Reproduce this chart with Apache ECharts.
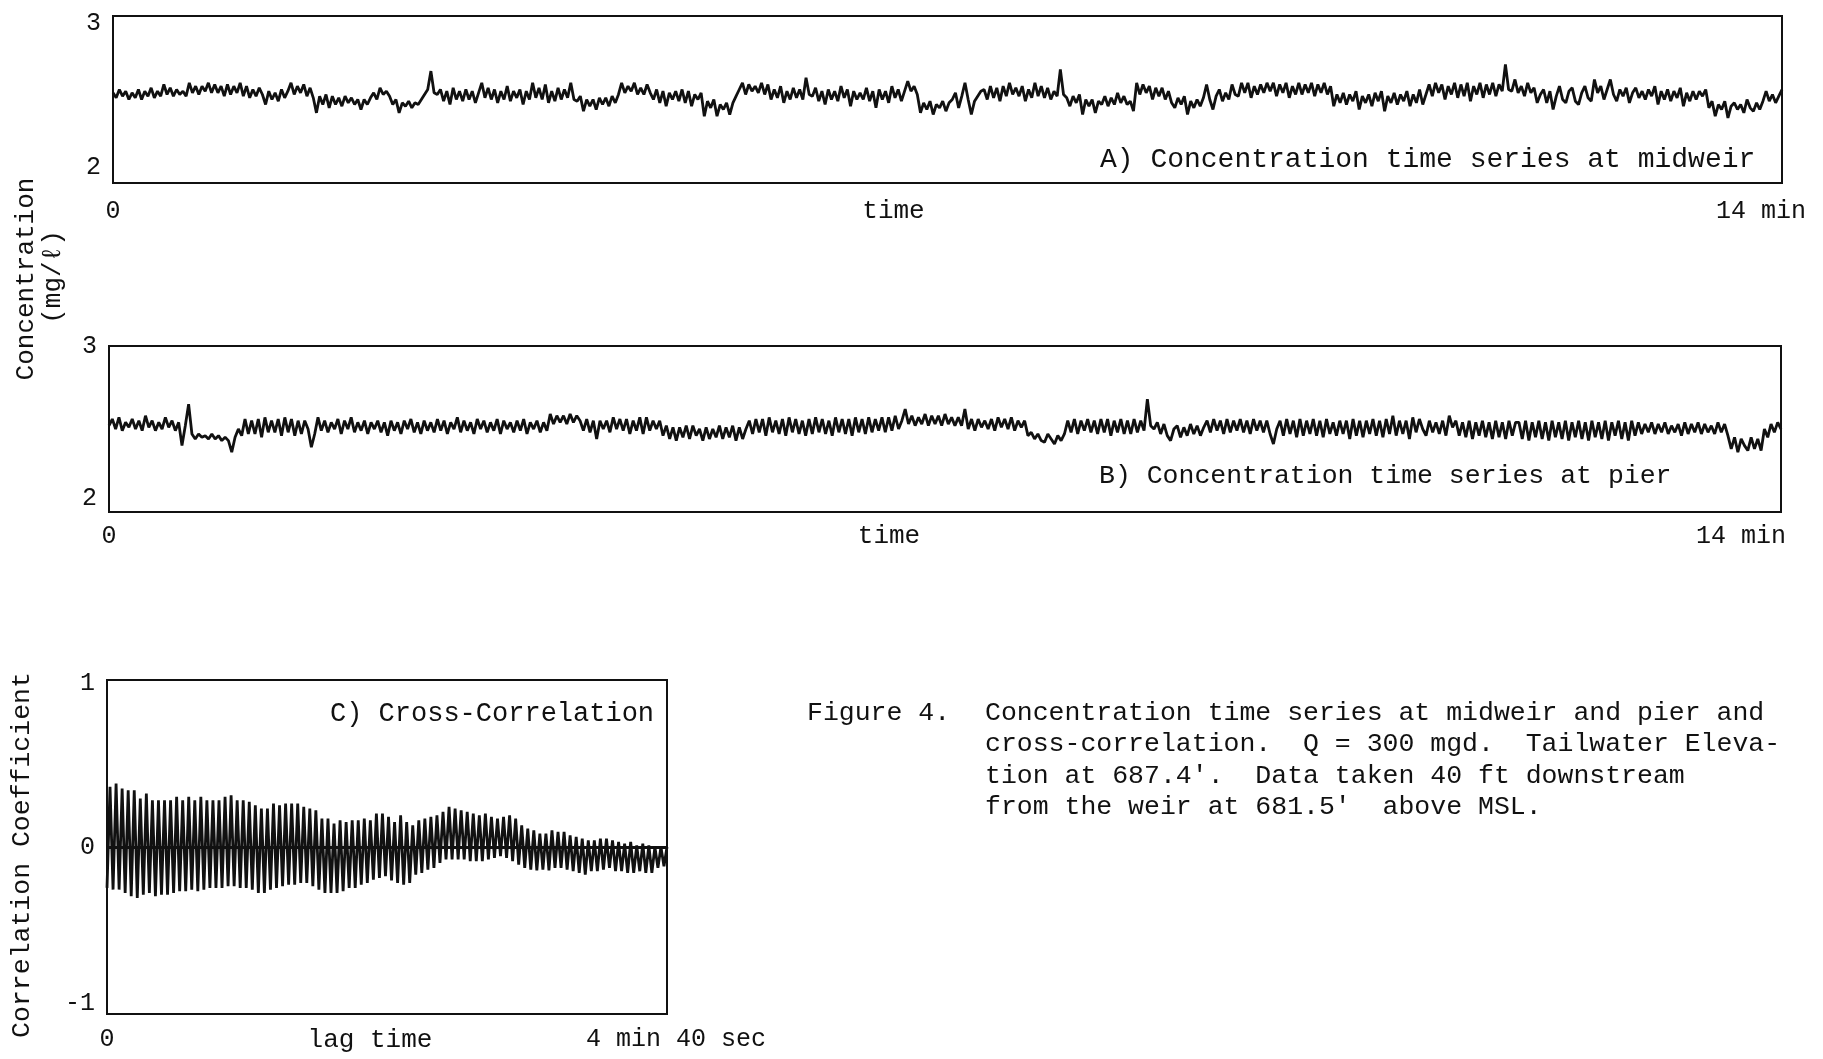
<!DOCTYPE html>
<html>
<head>
<meta charset="utf-8">
<script src="https://cdn.jsdelivr.net/npm/echarts@6/dist/echarts.min.js"></script>
<style>
html,body{margin:0;padding:0;background:#ffffff;}
#chart{width:1823px;height:1059px;}
</style>
</head>
<body>
<div id="chart"></div>
<script>
// ---------- data ----------
// A) concentration at midweir (mg/l), evenly sampled over 0..14 min
const midweirConc = [
2.54,2.51,2.56,2.52,2.55,2.50,2.54,2.51,2.56,2.50,2.55,2.52,2.57,2.51,2.55,2.52,
2.59,2.53,2.57,2.52,2.56,2.53,2.55,2.52,2.60,2.54,2.58,2.53,2.58,2.55,2.60,2.54,
2.59,2.54,2.58,2.52,2.59,2.53,2.58,2.54,2.60,2.52,2.58,2.51,2.56,2.52,2.57,2.53,
2.47,2.55,2.50,2.54,2.49,2.56,2.51,2.55,
2.60,2.53,2.58,2.54,2.59,2.52,2.57,2.51,
2.42,2.52,2.47,2.53,2.45,2.52,2.47,2.51,2.46,2.52,2.48,2.51,2.47,2.50,
2.44,2.50,2.47,2.51,
2.54,2.50,2.57,2.53,2.55,2.52,
2.47,2.50,2.42,2.48,2.46,2.49,2.45,2.48,2.47,2.50,
2.53,2.56,2.67,2.54,
2.53,2.56,2.49,2.55,2.47,2.57,2.50,2.55,2.49,2.56,2.50,2.55,2.48,2.54,
2.60,2.51,2.57,2.50,2.56,2.48,2.55,2.50,2.58,2.49,2.55,2.51,2.56,2.47,2.55,
2.50,2.60,2.51,2.57,2.50,2.59,2.48,2.55,2.49,2.57,2.50,2.56,2.51,2.60,2.50,
2.49,2.52,2.43,2.50,2.46,2.50,2.44,2.51,2.47,2.51,2.46,2.52,2.48,2.53,
2.60,2.54,2.58,2.55,2.60,2.53,2.57,2.53,2.59,2.54,
2.50,2.56,2.48,2.55,2.46,2.54,2.50,2.55,2.49,2.56,2.48,2.55,2.46,2.53,2.50,2.54,
2.40,2.49,2.45,2.50,2.40,2.47,2.44,2.48,
2.41,2.48,2.52,2.56,
2.60,2.53,2.59,2.55,2.58,2.54,2.60,2.53,2.59,2.50,2.56,2.51,2.58,2.48,2.55,2.50,2.57,2.51,2.56,2.50,2.63,2.53,
2.52,2.57,2.49,2.55,2.47,2.56,2.50,2.55,2.49,2.58,2.51,2.56,2.46,2.55,2.50,
2.54,2.50,2.57,2.49,2.55,2.45,2.56,2.50,2.55,2.48,2.58,2.51,2.56,2.49,2.55,
2.61,2.55,2.58,2.53,
2.42,2.48,2.44,2.49,2.41,2.47,2.45,2.49,2.43,2.48,
2.50,2.54,2.45,2.52,2.60,2.50,2.41,2.49,2.52,2.55,
2.56,2.50,2.58,2.51,2.57,2.49,2.58,2.52,2.60,2.53,2.57,2.52,2.58,2.49,2.56,2.51,2.60,2.52,2.58,2.51,2.57,2.50,2.55,2.52,
2.68,2.53,
2.51,2.46,2.52,2.48,2.53,2.41,2.50,2.46,2.50,2.42,2.49,2.47,2.52,2.46,2.51,2.47,2.54,2.48,2.52,2.47,2.49,2.43,
2.60,2.53,2.59,2.54,2.58,2.50,2.57,2.52,2.57,2.50,2.55,2.48,
2.45,2.51,2.47,2.52,2.41,2.49,2.45,2.50,2.46,2.51,
2.59,2.50,2.44,2.52,2.56,2.49,2.54,2.50,2.59,2.53,
2.52,2.60,2.54,2.60,2.51,2.58,2.53,2.59,2.54,2.60,2.55,2.60,2.52,2.59,2.54,
2.60,2.51,2.58,2.53,2.60,2.53,2.59,2.54,2.60,2.52,2.59,2.54,2.60,2.53,2.58,
2.46,2.53,2.48,2.54,2.47,2.53,2.49,2.55,2.44,2.52,2.48,2.53,2.46,2.54,2.49,
2.55,2.43,2.52,2.48,2.54,2.47,2.53,2.49,2.55,2.46,2.53,2.48,2.56,2.47,2.53,
2.59,2.52,2.60,2.54,2.59,2.50,2.58,2.53,2.60,2.51,2.59,2.52,2.60,2.49,2.58,2.53,2.60,2.51,2.59,2.53,2.60,2.52,2.59,2.55,
2.71,2.56,
2.55,2.62,2.54,2.58,2.52,2.60,2.54,2.57,2.48,2.53,
2.56,2.48,2.55,2.44,2.52,2.58,2.50,2.48,2.55,2.57,2.49,2.47,2.54,2.58,2.51,2.49,
2.62,2.54,2.58,2.50,2.56,2.62,2.53,2.49,2.56,2.52,2.57,2.48,2.54,2.57,2.51,2.55,
2.50,2.56,2.52,2.58,2.47,2.55,2.50,2.56,2.49,2.55,2.51,2.57,2.46,2.54,2.49,2.55,2.50,2.55,2.52,2.56,
2.45,2.49,2.40,2.47,2.44,2.49,2.39,2.46,2.48,2.44,2.47,2.42,2.50,2.45,2.43,2.48,2.44,2.49,
2.55,2.49,2.53,2.48,2.52,2.56
];

// B) concentration at pier (mg/l), evenly sampled over 0..14 min
const pierConc = [
2.52,2.56,2.50,2.57,2.49,2.54,2.51,2.56,2.50,2.55,2.49,2.58,2.51,2.55,2.49,2.54,2.50,2.57,2.51,2.55,2.49,2.54,
2.40,2.52,2.65,
2.47,2.44,2.47,2.45,2.46,2.44,2.47,2.44,2.46,2.43,2.45,2.43,
2.36,2.45,
2.50,2.46,2.56,2.47,2.55,2.47,2.56,2.45,2.57,2.48,2.55,2.48,2.56,2.46,2.57,2.48,2.56,2.46,2.55,2.47,2.55,2.50,
2.39,2.47,
2.57,2.49,2.55,2.48,2.54,2.50,2.56,2.47,2.55,2.50,
2.57,2.48,2.54,2.49,2.55,2.47,2.54,2.50,2.55,2.48,
2.54,2.46,2.55,2.49,2.54,2.47,2.55,2.50,2.56,2.48,
2.54,2.47,2.55,2.49,2.54,2.48,2.56,2.49,2.55,2.47,
2.54,2.50,2.57,2.48,2.55,2.49,2.54,2.47,2.56,2.50,
2.55,2.48,2.54,2.49,2.56,2.47,2.55,2.50,2.54,2.48,
2.55,2.49,2.56,2.47,2.54,2.50,2.55,2.48,2.54,2.49,
2.59,2.53,2.58,2.54,2.58,2.53,2.59,2.54,2.58,2.55,
2.49,2.56,2.48,2.55,2.44,2.55,2.50,2.55,2.48,2.57,2.50,2.56,2.49,2.56,2.47,2.55,2.49,2.57,2.47,2.57,2.49,2.55,2.50,2.55,
2.46,2.52,2.44,2.51,2.43,2.51,2.45,2.52,2.44,2.52,2.46,2.50,2.43,2.51,2.44,2.50,2.45,2.52,2.44,2.51,2.45,2.52,2.43,2.51,2.44,2.50,
2.55,2.47,2.56,2.48,2.56,2.46,2.57,2.48,2.55,2.47,2.56,2.46,2.57,2.48,2.56,2.47,2.55,2.46,
2.56,2.47,2.57,2.48,2.56,2.47,2.55,2.46,2.57,2.48,2.56,2.47,2.56,2.46,2.57,2.48,2.56,2.47,
2.57,2.48,2.56,2.49,2.57,2.48,2.57,2.49,2.58,2.50,2.55,2.62,
2.53,2.58,2.52,2.57,2.53,2.59,2.52,2.58,2.53,2.58,2.52,2.59,2.53,2.57,2.52,2.57,
2.52,2.62,2.50,2.56,2.49,2.56,2.51,2.55,2.50,2.56,2.49,2.57,2.51,2.56,2.50,2.57,2.49,2.55,2.51,2.55,
2.46,2.48,2.44,2.47,2.43,2.42,2.47,2.44,2.41,2.46,2.43,2.47,
2.55,2.48,2.56,2.47,2.55,2.49,2.56,2.48,2.55,2.47,2.56,2.48,2.56,2.46,2.55,2.48,2.56,2.47,2.55,2.47,2.56,2.48,2.55,2.49,
2.68,2.52,
2.50,2.54,2.47,2.53,2.46,2.43,2.50,2.52,2.45,2.51,2.46,2.53,2.47,2.52,2.46,2.51,
2.55,2.48,2.56,2.49,2.55,2.47,2.56,2.48,2.55,2.49,2.56,2.48,2.55,2.47,2.56,2.49,2.55,2.48,2.55,2.47,
2.41,2.50,
2.55,2.46,2.56,2.47,2.55,2.45,2.56,2.46,2.55,2.47,2.56,2.46,2.55,2.45,2.56,2.47,2.54,2.46,2.55,2.47,2.55,2.44,
2.56,2.46,2.55,2.45,2.55,2.47,2.56,2.46,2.55,2.45,2.56,2.47,2.58,2.46,2.55,2.47,2.55,2.44,2.57,2.48,2.56,2.50,
2.46,2.55,2.48,2.54,2.47,2.55,2.46,2.58,2.51,2.55,
2.46,2.54,2.45,2.55,2.44,2.54,2.46,2.55,2.45,2.54,2.44,2.55,2.45,2.54,2.44,2.55,2.46,2.54,
2.54,2.44,2.55,2.43,2.54,2.45,2.55,2.44,2.54,2.43,2.55,2.45,2.54,2.44,2.55,2.43,2.54,2.45,
2.55,2.44,2.54,2.43,2.55,2.45,2.54,2.44,2.55,2.43,2.54,2.46,2.55,2.44,2.54,2.43,2.55,2.46,
2.54,2.47,2.53,2.48,2.54,2.47,2.53,2.48,2.54,2.47,2.52,2.48,2.53,2.46,
2.54,2.47,2.53,2.48,2.54,2.47,2.53,2.48,2.52,2.47,2.54,2.48,2.53,2.46,
2.38,2.45,2.36,2.44,2.40,2.37,2.45,2.38,2.44,2.37,
2.50,2.45,2.53,2.48,2.54,2.50
];

// C) cross-correlation: successive maxima and minima of the oscillation, lag 0..280 s
const corrPeaks = [
0.36,0.38,0.35,0.34,0.34,0.29,0.32,0.28,0.28,0.28,
0.28,0.30,0.28,0.30,0.28,0.30,0.28,0.28,0.28,0.30,
0.31,0.28,0.28,0.27,0.25,0.23,0.23,0.26,0.25,0.26,
0.26,0.26,0.24,0.23,0.22,0.17,0.17,0.14,0.16,0.15,
0.16,0.16,0.17,0.16,0.20,0.20,0.18,
0.15,0.19,0.15,0.13,0.16,0.17,0.18,0.19,0.21,0.24,
0.23,0.22,0.21,0.20,0.19,0.20,0.18,0.17,0.18,0.19,
0.17,0.13,0.11,0.10,0.08,0.08,0.10,0.09,0.09,0.07,
0.06,0.05,0.04,0.04,0.05,0.05,0.04,0.03,0.02,0.03,
0.01,0.02,0.01,0.00,0.00,0.00
];
const corrTroughs = [
-0.245,-0.255,-0.255,-0.275,-0.295,-0.305,-0.285,-0.275,-0.295,-0.285,
-0.285,-0.275,-0.265,-0.265,-0.255,-0.265,-0.255,-0.245,-0.245,-0.245,
-0.235,-0.235,-0.245,-0.245,-0.255,-0.275,-0.275,-0.255,-0.245,-0.235,
-0.225,-0.225,-0.215,-0.215,-0.235,-0.255,-0.275,-0.275,-0.275,-0.265,
-0.245,-0.245,-0.225,-0.215,-0.195,-0.185,-0.175,
-0.20,-0.215,-0.225,-0.215,-0.165,-0.155,-0.135,-0.125,-0.095,-0.075,
-0.075,-0.075,-0.075,-0.085,-0.085,-0.085,-0.075,-0.065,-0.055,-0.065,
-0.085,-0.105,-0.125,-0.135,-0.14,-0.135,-0.14,-0.125,-0.125,-0.135,
-0.145,-0.155,-0.165,-0.145,-0.145,-0.135,-0.125,-0.145,-0.145,-0.155,
-0.155,-0.145,-0.155,-0.155,-0.125,-0.115
];

// axis ticks and texts
const concTicks = [2, 3];
const corrTicks = [-1, 0, 1];
const timeTicks = [0, 14];
const timeTickLabels = ['0', '14 min'];
const lagTicks = [0, 280];
const lagTickLabels = ['0', '4 min 40 sec'];
const panelTitles = ['A) Concentration time series at midweir', 'B) Concentration time series at pier', 'C) Cross-Correlation'];
const concAxisTitle = ['Concentration', '(mg/\u2113)'];
const corrAxisTitle = 'Correlation Coefficient';
const captionHead = 'Figure 4.';
const captionLines = [
  'Concentration time series at midweir and pier and',
  'cross-correlation.  Q = 300 mgd.  Tailwater Eleva-',
  "tion at 687.4'.  Data taken 40 ft downstream",
  "from the weir at 681.5'  above MSL."
];

// ---------- build ----------
const FONT = "'Liberation Mono', 'DejaVu Sans Mono', monospace";
const INK = '#111111';

function sampled(values, span) {
  return values.map((v, i) => [i * span / (values.length - 1), v]);
}
const corrSeq = [];
for (let i = 0; i < Math.min(corrPeaks.length, corrTroughs.length); i++) {
  corrSeq.push(corrTroughs[i]);
  corrSeq.push(corrPeaks[i]);
}

const tickFont = { color: INK, fontFamily: FONT, fontSize: 25 };

function xAxisFor(gi, ticks, labels, margin, shiftPad, name, nameGap, namePad) {
  return {
    gridIndex: gi, type: 'value', min: ticks[0], max: ticks[1],
    axisLine: { show: false }, axisTick: { show: false }, splitLine: { show: false },
    axisLabel: Object.assign({}, tickFont, {
      customValues: ticks, margin: margin,
      formatter: v => v === ticks[0] ? '{n|' + labels[0] + '}' : '{r|' + labels[1] + '}',
      rich: {
        n: Object.assign({}, tickFont),
        r: Object.assign({}, tickFont, { padding: shiftPad })
      }
    }),
    name: name, nameLocation: 'middle', nameGap: nameGap, nameMoveOverlap: false,
    nameTextStyle: Object.assign({}, tickFont, { fontSize: 26, padding: namePad, verticalAlign: 'top' })
  };
}

function yAxisFor(gi, min, max, ticks, pads, extra) {
  const rich = {};
  ticks.forEach((t, k) => { rich['k' + k] = Object.assign({}, tickFont, { padding: pads[k] }); });
  return Object.assign({
    gridIndex: gi, type: 'value', min: min, max: max,
    axisLine: { show: false }, axisTick: { show: false }, splitLine: { show: false },
    axisLabel: Object.assign({}, tickFont, {
      customValues: ticks, margin: 12,
      formatter: v => { const k = ticks.indexOf(v); return '{k' + k + '|' + (v < 0 ? '-' + Math.abs(v) : v) + '}'; },
      rich: rich
    })
  }, extra || {});
}

const gridStyle = { show: true, borderColor: INK, borderWidth: 2, backgroundColor: 'transparent', containLabel: false, outerBoundsMode: 'none' };

const option = {
  backgroundColor: '#ffffff',
  animation: false,
  grid: [
    Object.assign({ left: 113, top: 16, width: 1669, height: 167 }, gridStyle),
    Object.assign({ left: 109, top: 346, width: 1672, height: 166 }, gridStyle),
    Object.assign({ left: 107, top: 680, width: 560, height: 334 }, gridStyle)
  ],
  xAxis: [
    xAxisFor(0, timeTicks, timeTickLabels, 16, [0, 42, 0, 0], 'time', 15, [0, 108, 0, 0]),
    xAxisFor(1, timeTicks, timeTickLabels, 12, [0, 80, 0, 0], 'time', 11, [0, 112, 0, 0]),
    xAxisFor(2, lagTicks, lagTickLabels, 13, [0, 0, 0, 18], 'lag time', 13, [0, 34, 0, 0])
  ],
  yAxis: [
    yAxisFor(0, 2, 3, concTicks, [[0, 0, 32, 0], [14, 0, 0, 0]]),
    yAxisFor(1, 2, 3, concTicks, [[0, 0, 28, 0], [0, 0, 0, 0]]),
    yAxisFor(2, -1, 1, corrTicks, [[0, 0, 22, 0], [0, 0, 0, 0], [6, 0, 0, 0]], {
      name: corrAxisTitle, nameLocation: 'middle', nameGap: 72, nameMoveOverlap: false,
      nameTextStyle: Object.assign({}, tickFont, { fontSize: 26.5, padding: [0, 16, 0, 0] })
    })
  ],
  series: [
    {
      type: 'line', xAxisIndex: 0, yAxisIndex: 0, data: sampled(midweirConc, 14),
      showSymbol: false, lineStyle: { color: INK, width: 2.8 }, silent: true
    },
    {
      type: 'line', xAxisIndex: 1, yAxisIndex: 1, data: sampled(pierConc, 14),
      showSymbol: false, lineStyle: { color: INK, width: 2.8 }, silent: true
    },
    {
      type: 'line', xAxisIndex: 2, yAxisIndex: 2, data: sampled(corrSeq, 280),
      showSymbol: false, lineStyle: { color: INK, width: 2.8 }, silent: true,
      markLine: {
        silent: true, symbol: 'none', label: { show: false },
        lineStyle: { color: INK, width: 3, type: 'solid' },
        data: [{ yAxis: 0 }]
      }
    }
  ],
  graphic: {
    elements: [
      { type: 'text', x: 1100, y: 160, style: { text: panelTitles[0], fill: INK, fontFamily: FONT, fontSize: 28, align: 'left', verticalAlign: 'middle' } },
      { type: 'text', x: 1099, y: 476, style: { text: panelTitles[1], fill: INK, fontFamily: FONT, fontSize: 26.5, align: 'left', verticalAlign: 'middle' } },
      { type: 'text', x: 330, y: 714, style: { text: panelTitles[2], fill: INK, fontFamily: FONT, fontSize: 27, align: 'left', verticalAlign: 'middle' } },
      { type: 'text', x: 26, y: 279, rotation: Math.PI / 2, style: { text: concAxisTitle[0], fill: INK, fontFamily: FONT, fontSize: 26, align: 'center', verticalAlign: 'middle' } },
      { type: 'text', x: 53, y: 277, rotation: Math.PI / 2, style: { text: concAxisTitle[1], fill: INK, fontFamily: FONT, fontSize: 26, align: 'center', verticalAlign: 'middle' } },
      { type: 'text', x: 807, y: 697, style: { text: captionHead, fill: INK, fontFamily: FONT, fontSize: 26.5, align: 'left', verticalAlign: 'top', lineHeight: 31.5 } },
      { type: 'text', x: 985, y: 697, style: { text: captionLines.join('\n'), fill: INK, fontFamily: FONT, fontSize: 26.5, align: 'left', verticalAlign: 'top', lineHeight: 31.5 } }
    ]
  }
};

const chart = echarts.init(document.getElementById('chart'), null, { renderer: 'canvas' });
chart.setOption(option);
</script>
</body>
</html>
